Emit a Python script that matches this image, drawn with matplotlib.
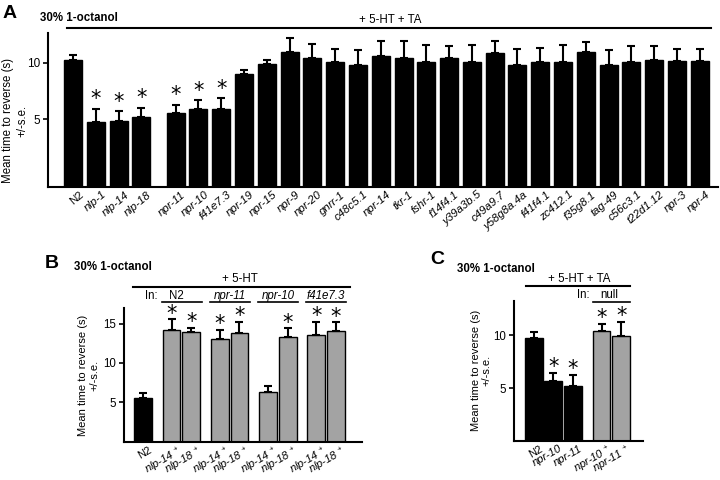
import numpy as np
import matplotlib
matplotlib.use("Agg")
import matplotlib.pyplot as plt
import matplotlib.transforms as mtransforms

plt.rcParams["font.family"] = ["Liberation Sans", "DejaVu Sans"]
plt.rcParams["mathtext.fontset"] = "custom"
plt.rcParams["mathtext.rm"] = "Liberation Sans"

# ---------------------------------------------------------------------------
# Data
# ---------------------------------------------------------------------------

a_labels = ["N2", "nlp-1", "nlp-14", "nlp-18", "npr-11", "npr-10", "f41e7.3",
            "npr-19", "npr-15", "npr-9", "npr-20", "gnrr-1", "c48c5.1", "npr-14",
            "tkr-1", "fshr-1", "f14f4.1", "y39a3b.5", "c49a9.7", "y58g8a.4a",
            "f41f4.1", "zc412.1", "f35g8.1", "tag-49", "c56c3.1", "t22d1.12",
            "npr-3", "npr-4"]
a_mean = [10.2, 4.75, 4.8, 5.2, 5.5, 5.85, 5.9, 8.95, 9.85, 10.9, 10.4, 10.05,
          9.8, 10.6, 10.45, 10.05, 10.45, 10.1, 10.85, 9.8, 10.1, 10.1, 10.9,
          9.8, 10.1, 10.25, 10.15, 10.15]
a_sem = [0.5, 1.15, 0.9, 0.8, 0.75, 0.8, 0.95, 0.4, 0.4, 1.25, 1.25, 1.2,
         1.35, 1.35, 1.45, 1.55, 1.05, 1.5, 1.1, 1.45, 1.2, 1.5, 0.95,
         1.35, 1.35, 1.2, 1.05, 1.05]
a_sig = [0, 1, 1, 1, 1, 1, 1] + [0] * 21

b_labels = ["N2", "nlp-14 $^{+}$", "nlp-18 $^{+}$", "nlp-14 $^{+}$", "nlp-18 $^{+}$",
            "nlp-14 $^{+}$", "nlp-18 $^{+}$", "nlp-14 $^{+}$", "nlp-18 $^{+}$"]
b_mean = [5.55, 14.2, 13.9, 13.1, 13.8, 6.35, 13.3, 13.55, 14.1]
b_sem = [0.7, 1.35, 0.6, 1.15, 1.45, 0.7, 1.1, 1.7, 1.05]
b_sig = [0, 1, 1, 1, 1, 0, 1, 1, 1]
b_groups = ["N2", "npr-11", "npr-10", "f41e7.3"]

c_labels = ["N2", "npr-10", "npr-11", "npr-10 $^{+}$", "npr-11 $^{+}$"]
c_mean = [9.8, 5.7, 5.15, 10.45, 9.95]
c_sem = [0.5, 0.7, 1.1, 0.6, 1.35]
c_sig = [0, 1, 1, 1, 1]

BLACK = "#000000"
GREY = "#a3a3a3"
YLABEL = "Mean time to reverse (s)\n+/-s.e."


# ---------------------------------------------------------------------------
# Helpers
# ---------------------------------------------------------------------------

def _style(ax, ymin, ymax, xlim, yticks, tick_fs):
    for s in ("top", "right"):
        ax.spines[s].set_visible(False)
    for s in ("left", "bottom"):
        ax.spines[s].set_linewidth(1.5)
    ax.set_ylim(ymin, ymax)
    ax.set_xlim(*xlim)
    ax.set_yticks(yticks)
    ax.tick_params(axis="y", length=3.5, width=1.2, labelsize=tick_fs, pad=2)
    ax.tick_params(axis="x", length=0, pad=2)


def _bars(ax, x, mean, sem, colors, width, ymin):
    mean = np.asarray(mean)
    ax.bar(x, mean - ymin, bottom=ymin, width=width, color=colors,
           edgecolor="k", linewidth=1.0, zorder=2)
    ax.errorbar(x, mean, yerr=[np.zeros_like(mean), sem], fmt="none",
                ecolor="k", elinewidth=1.5, capsize=3.2, capthick=1.5, zorder=3)


def _stars(ax, x, mean, sem, sig, off):
    for xi, m, s, g in zip(x, mean, sem, sig):
        if g:
            ax.annotate("*", (xi, m + s), xytext=(0, off), textcoords="offset points",
                        ha="center", va="baseline", fontsize=15,
                        family="DejaVu Sans", clip_on=False)


def _xlabels(ax, x, labels, rot, fs, dx):
    ax.set_xticks(x)
    ax.set_xticklabels(labels, rotation=rot, ha="right", va="top",
                       rotation_mode="anchor", fontsize=fs)
    shift = mtransforms.ScaledTranslation(dx / 72, 0, ax.figure.dpi_scale_trans)
    for t in ax.get_xticklabels():
        if t.get_text() != "N2":
            t.set_fontstyle("italic")
        t.set_transform(t.get_transform() + shift)


fig = plt.figure(figsize=(7.2, 4.8), dpi=100)

# ---------------------------------------------------------------------------
# Panel A
# ---------------------------------------------------------------------------
axA = fig.add_axes([0.0667, 0.611, 0.9305, 0.3196])
xa = np.array([i + (0.5 if i >= 4 else 0.0) for i in range(len(a_labels))])
ya_min = -1.0
_bars(axA, xa, a_mean, a_sem, BLACK, 0.79, ya_min)
_stars(axA, xa, a_mean, a_sem, a_sig, 2.5)
_style(axA, ya_min, 12.6, (-1.1, 28.3), [5, 10], 8.5)
_xlabels(axA, xa, a_labels, 40, 8.2, 4)
axA.set_ylabel(YLABEL, fontsize=8.3, linespacing=1.2)
axA.yaxis.set_label_coords(-0.03, 0.43)

ta = axA.get_xaxis_transform()
axA.plot([-0.26, 28.0], [1.035, 1.035], color="k", lw=1.5, transform=ta, clip_on=False)
axA.text(13.9, 1.085, "+ 5-HT + TA", transform=ta, ha="center", va="center", fontsize=8.3)
fig.text(0.004, 0.971, "A", fontsize=14, weight="bold", va="center")
fig.text(0.056, 0.9625, "30% 1-octanol", fontsize=8.3, weight="bold", va="center")

# ---------------------------------------------------------------------------
# Panel B
# ---------------------------------------------------------------------------
axB = fig.add_axes([0.1722, 0.0798, 0.3306, 0.2779])
xb = [0.0]
for g in range(len(b_groups)):
    base = 1.45 + g * 2.45
    xb += [base, base + 1.0]
xb = np.array(xb)
b_colors = [BLACK] + [GREY] * (len(b_labels) - 1)
_bars(axB, xb, b_mean, b_sem, b_colors, 0.9, 0.0)
_stars(axB, xb, b_mean, b_sem, b_sig, -0.5)
_style(axB, 0.0, 16.95, (-0.97, 11.13), [5, 10, 15], 8.3)
_xlabels(axB, xb, b_labels, 30, 8.0, 4)
axB.set_ylabel(YLABEL, fontsize=8.0, linespacing=1.1)
axB.yaxis.set_label_coords(-0.105, 0.5)

tb = axB.get_xaxis_transform()
axB.plot([-0.51, 10.52], [1.162, 1.162], color="k", lw=1.5, transform=tb, clip_on=False)
axB.text(4.9, 1.216, "+ 5-HT", transform=tb, ha="center", va="center", fontsize=8.3)
axB.text(0.4, 1.092, "In:", transform=tb, ha="center", va="center", fontsize=8.3)
for g, name in enumerate(b_groups):
    x0, x1 = xb[1 + 2 * g], xb[2 + 2 * g]
    axB.plot([x0 - 0.5, x1 + 0.53], [1.045, 1.045], color="k", lw=1.2,
             transform=tb, clip_on=False)
    xc = 1.68 if name == "N2" else (x0 + x1) / 2
    axB.text(xc, 1.092, name, transform=tb, ha="center", va="center", fontsize=8.3,
             style="normal" if name == "N2" else "italic")
fig.text(0.0625, 1 - 263.5 / 480, "B", fontsize=14, weight="bold", va="center")
fig.text(0.1028, 1 - 267.5 / 480, "30% 1-octanol", fontsize=8.3, weight="bold", va="center")

# ---------------------------------------------------------------------------
# Panel C
# ---------------------------------------------------------------------------
axC = fig.add_axes([0.7139, 0.0819, 0.1792, 0.2917])
xc_ = np.array([0.0, 1.0, 2.0, 3.45, 4.45])
c_colors = [BLACK] * 3 + [GREY] * 2
_bars(axC, xc_, c_mean, c_sem, c_colors, 0.9, 0.0)
_stars(axC, xc_, c_mean, c_sem, c_sig, 0.0)
_style(axC, 0.0, 13.3, (-1.0, 5.56), [5, 10], 8.3)
_xlabels(axC, xc_, c_labels, 30, 8.0, 4)
axC.set_ylabel(YLABEL, fontsize=8.0, linespacing=1.1)
axC.yaxis.set_label_coords(-0.175, 0.5)

tc = axC.get_xaxis_transform()
axC.plot([-0.41, 4.9], [1.105, 1.105], color="k", lw=1.5, transform=tc, clip_on=False)
axC.text(2.33, 1.155, "+ 5-HT + TA", transform=tc, ha="center", va="center", fontsize=8.3)
axC.plot([3.03, 4.9], [0.993, 0.993], color="k", lw=1.2, transform=tc, clip_on=False)
axC.text(2.5, 1.037, "In:", transform=tc, ha="center", va="center", fontsize=8.3)
axC.text(3.83, 1.037, "null", transform=tc, ha="center", va="center", fontsize=8.3)
fig.text(430 / 720, 1 - 260 / 480, "C", fontsize=14, weight="bold", va="center")
fig.text(457 / 720, 1 - 268.5 / 480, "30% 1-octanol", fontsize=8.3, weight="bold", va="center")

fig.savefig("out.png", dpi=100)
